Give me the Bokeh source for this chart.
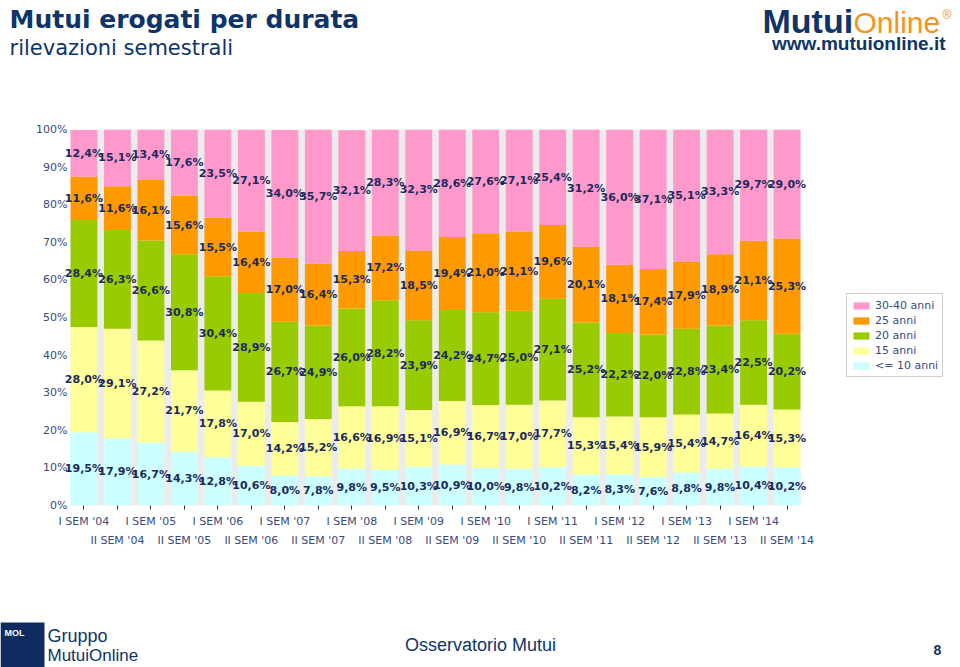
from bokeh.plotting import figure
from bokeh.layouts import column
from bokeh.models import (ColumnDataSource, Range1d, FixedTicker, LinearAxis, Legend,
                          LegendItem, Label, LabelSet, BoxAnnotation)
from bokeh.core.properties import value
from bokeh.embed import file_html
from bokeh.resources import INLINE

periods = ["I SEM '04", "II SEM '04", "I SEM '05", "II SEM '05", "I SEM '06", "II SEM '06",
           "I SEM '07", "II SEM '07", "I SEM '08", "II SEM '08", "I SEM '09", "II SEM '09",
           "I SEM '10", "II SEM '10", "I SEM '11", "II SEM '11", "I SEM '12", "II SEM '12",
           "I SEM '13", "II SEM '13", "I SEM '14", "II SEM '14"]
le10 = [19.5, 17.9, 16.7, 14.3, 12.8, 10.6, 8.0, 7.8, 9.8, 9.5, 10.3, 10.9, 10.0, 9.8, 10.2,
        8.2, 8.3, 7.6, 8.8, 9.8, 10.4, 10.2]
y15 = [28.0, 29.1, 27.2, 21.7, 17.8, 17.0, 14.2, 15.2, 16.6, 16.9, 15.1, 16.9, 16.7, 17.0, 17.7,
       15.3, 15.4, 15.9, 15.4, 14.7, 16.4, 15.3]
y20 = [28.4, 26.3, 26.6, 30.8, 30.4, 28.9, 26.7, 24.9, 26.0, 28.2, 23.9, 24.2, 24.7, 25.0, 27.1,
       25.2, 22.2, 22.0, 22.8, 23.4, 22.5, 20.2]
y25 = [11.6, 11.6, 16.1, 15.6, 15.5, 16.4, 17.0, 16.4, 15.3, 17.2, 18.5, 19.4, 21.0, 21.1, 19.6,
       20.1, 18.1, 17.4, 17.9, 18.9, 21.1, 25.3]
y3040 = [12.4, 15.1, 13.4, 17.6, 23.5, 27.1, 34.0, 35.7, 32.1, 28.3, 32.3, 28.6, 27.6, 27.1, 25.4,
         31.2, 36.0, 37.1, 35.1, 33.3, 29.7, 29.0]
series_names = ["<= 10 anni", "15 anni", "20 anni", "25 anni", "30-40 anni"]
series_colors = ["#CCFFFF", "#FFFF99", "#99CC00", "#FF9900", "#FF99CC"]
y_ticks = [0, 10, 20, 30, 40, 50, 60, 70, 80, 90, 100]
y_tick_labels = ["0%", "10%", "20%", "30%", "40%", "50%", "60%", "70%", "80%", "90%", "100%"]

title_text = "Mutui erogati per durata"
subtitle_text = "rilevazioni semestrali"

NAVY = "#0E3468"
TXT = "#1B2A5C"
AX = "#3A4A7A"

W = 960
HH, MH, FH = 75, 535, 57          # header, main, footer heights
BAR_L, BAR_R = 70, 800            # pixel extent of the bar block
FL, FR, FT, FB = 62, 955, 54, 430  # main frame edges (within main figure)

n = len(periods)
xs = list(range(1, n + 1))
BW = 0.803
series = [le10, y15, y20, y25, y3040]
keys = ["s0", "s1", "s2", "s3", "s4"]

ppu = (BAR_R - BAR_L) / (n - 1 + BW)      # pixels per category unit
x0 = 1 - BW / 2 - (BAR_L - FL) / ppu
x1 = x0 + (FR - FL) / ppu


def blank(h):
    f = figure(width=W, height=h, output_backend="svg", toolbar_location=None,
               x_range=Range1d(0, W), y_range=Range1d(h, 0),
               x_axis_location=None, y_axis_location=None,
               min_border=0, min_border_left=0, min_border_right=0,
               min_border_top=0, min_border_bottom=0, frame_align=False)
    f.grid.visible = False
    f.outline_line_color = None
    f.background_fill_color = "white"
    f.border_fill_color = "white"
    return f


def add_text(f, x, baseline_y, text, size, color, style="normal", font="DejaVu Sans",
             align="left"):
    px = float(size.replace("px", ""))
    f.add_layout(Label(x=x, y=baseline_y - 0.35 * px, text=text, text_font=font,
                       text_font_size=size, text_font_style=style, text_color=color,
                       text_align=align, text_baseline="middle"))


# ---------------- header ----------------
hdr = blank(HH)
add_text(hdr, 9, 28, title_text, "25px", NAVY, "bold")
add_text(hdr, 9, 55, subtitle_text, "21px", NAVY, "normal")
add_text(hdr, 762, 32, "Mutui", "34px", NAVY, "bold", font="Liberation Sans")
add_text(hdr, 853, 32, "Online", "30px", "#F7941D", "normal", font="Liberation Sans")
add_text(hdr, 942, 19, "\u00ae", "12px", "#F7941D", "normal", font="Liberation Sans")
add_text(hdr, 945, 50, "www.mutuionline.it", "19px", NAVY, "bold", font="Liberation Sans",
         align="right")

# ---------------- main chart ----------------
p = figure(width=W, height=MH, output_backend="svg", toolbar_location=None,
           x_range=Range1d(x0, x1), y_range=Range1d(0, 100),
           min_border_left=FL, min_border_right=W - FR, min_border_top=FT,
           min_border_bottom=MH - FB, frame_align=False)
p.grid.visible = False
p.outline_line_color = None
p.background_fill_color = "white"
p.border_fill_color = "white"

# light grey band behind the bar block
p.add_layout(BoxAnnotation(left=1 - BW / 2, right=n + BW / 2, bottom=0, top=100,
                           fill_color="#ECECEC", fill_alpha=1, line_color=None,
                           level="underlay"))

data = dict(x=xs)
for k, s in zip(keys, series):
    data[k] = s
src = ColumnDataSource(data)
rs = p.vbar_stack(keys, x="x", width=BW, color=series_colors, line_color=None, source=src)

lx, ly, lt = [], [], []
for i in range(n):
    cum = 0.0
    for s in series:
        v = s[i]
        lx.append(xs[i])
        ly.append(cum + v / 2)
        lt.append(("%.1f%%" % v).replace(".", ","))
        cum += v
lsrc = ColumnDataSource(dict(x=lx, y=ly, t=lt))
labels = LabelSet(x="x", y="y", text="t", source=lsrc, text_align="center",
                  text_baseline="middle", text_font=value("DejaVu Sans"),
                  text_font_style="bold", text_font_size=value("11px"), text_color=TXT)
p.add_layout(labels)

ya = p.yaxis[0]
ya.ticker = FixedTicker(ticks=y_ticks)
ya.major_label_overrides = {t: l for t, l in zip(y_ticks, y_tick_labels)}
ya.axis_line_color = None
ya.major_tick_line_color = None
ya.minor_tick_line_color = None
ya.major_tick_out = 0
ya.major_tick_in = 0
ya.major_label_standoff = -(BAR_L - FL) + 3
ya.major_label_text_font = "DejaVu Sans"
ya.major_label_text_font_size = "11px"
ya.major_label_text_color = AX

xa = p.xaxis[0]
xa.ticker = FixedTicker(ticks=xs)
xa.major_label_overrides = {x: (periods[x - 1] if x % 2 == 1 else " ") for x in xs}
xa.axis_line_color = None
xa.minor_tick_line_color = None
xa.major_tick_line_color = "#333333"
xa.major_tick_in = 0
xa.major_tick_out = 4
xa.major_label_standoff = 5
xa.major_label_text_font = "DejaVu Sans"
xa.major_label_text_font_size = "11px"
xa.major_label_text_color = AX

xa2 = LinearAxis(ticker=FixedTicker(ticks=[x for x in xs if x % 2 == 0]))
xa2.major_label_overrides = {x: periods[x - 1] for x in xs if x % 2 == 0}
xa2.axis_line_color = None
xa2.minor_tick_line_color = None
xa2.major_tick_line_color = None
xa2.major_tick_in = 0
xa2.major_tick_out = 0
xa2.major_label_standoff = 3
xa2.major_label_text_font = "DejaVu Sans"
xa2.major_label_text_font_size = "11px"
xa2.major_label_text_color = AX
p.add_layout(xa2, "below")

items = [LegendItem(label=series_names[i], renderers=[rs[i]]) for i in reversed(range(5))]
legend = Legend(items=items, location=(846 - FL, 505 - 75 - 377 + FB - 430 + 75 - 75 + 0))
legend.location = (846 - FL, (FB + HH) - 377)
legend.border_line_color = "#A0A0A0"
legend.border_line_width = 1
legend.background_fill_color = "white"
legend.padding = 4
legend.spacing = 1
legend.margin = 0
legend.glyph_width = 20
legend.glyph_height = 9
legend.label_height = 14
legend.label_standoff = 4
legend.label_text_font = "DejaVu Sans"
legend.label_text_font_size = "11px"
legend.label_text_color = AX
p.add_layout(legend)

# ---------------- footer ----------------
ftr = blank(FH)
ftr.add_layout(BoxAnnotation(left=0, right=44, top=12, bottom=FH, fill_color="#0E2A5E",
                             fill_alpha=1, line_color=None))
add_text(ftr, 4, 26, "MOL", "9px", "white", "bold", font="Liberation Sans")
add_text(ftr, 47, 32, "Gruppo", "18px", NAVY, "normal", font="Liberation Sans")
add_text(ftr, 47, 51, "MutuiOnline", "17px", NAVY, "normal", font="Liberation Sans")
add_text(ftr, 480, 41, "Osservatorio Mutui", "18px", NAVY, "normal", font="Liberation Sans",
         align="center")
add_text(ftr, 933, 44, "8", "14px", NAVY, "bold", font="Liberation Sans")

layout = column(hdr, p, ftr, spacing=0)
open("out.html", "w").write(file_html(layout, INLINE))
